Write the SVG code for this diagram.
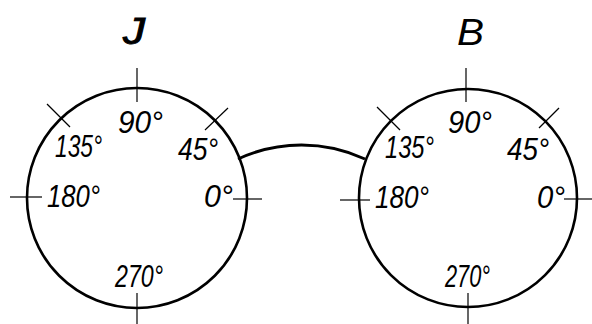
<svg xmlns="http://www.w3.org/2000/svg" width="592" height="324" viewBox="0 0 592 324">
<style>
.dial{fill:none;stroke:#000;stroke-width:2.6}
.tick{stroke:#000;stroke-width:1.2;fill:none}
.lbl{font-family:"Liberation Sans",Arial,sans-serif;font-style:italic;font-size:31px;fill:#000}
.ttl{font-family:"Liberation Sans",Arial,sans-serif;font-style:italic;font-size:37px;fill:#000}
.conn{fill:none;stroke:#000;stroke-width:3}
</style>
<rect width="592" height="324" fill="#fff"/>
<g id="dial-J">
<circle class="dial" cx="137" cy="198" r="110"/>
<line class="tick" x1="137" y1="68" x2="137" y2="102"/>
<line class="tick" x1="137" y1="293" x2="137" y2="324"/>
<line class="tick" x1="10" y1="197" x2="42" y2="197"/>
<line class="tick" x1="233" y1="199" x2="262" y2="199"/>
<line class="tick" x1="228" y1="108" x2="205" y2="130"/>
<line class="tick" x1="47" y1="104" x2="70" y2="127"/>
<text class="ttl" x="123" y="44" textLength="22" lengthAdjust="spacingAndGlyphs" stroke="#000" stroke-width="1">J</text>
<text class="lbl" x="118" y="133" textLength="45" lengthAdjust="spacingAndGlyphs">90°</text>
<text class="lbl" x="55" y="157" textLength="47" lengthAdjust="spacingAndGlyphs">135°</text>
<text class="lbl" x="178" y="160" textLength="40" lengthAdjust="spacingAndGlyphs">45°</text>
<text class="lbl" x="47" y="207" textLength="53" lengthAdjust="spacingAndGlyphs">180°</text>
<text class="lbl" x="204" y="207" textLength="29" lengthAdjust="spacingAndGlyphs">0°</text>
<text class="lbl" x="115" y="287" textLength="48" lengthAdjust="spacingAndGlyphs">270°</text>
</g>
<g id="dial-B">
<circle class="dial" cx="468" cy="198" r="109"/>
<line class="tick" x1="466" y1="68" x2="466" y2="102"/>
<line class="tick" x1="468" y1="293" x2="468" y2="324"/>
<line class="tick" x1="340" y1="200" x2="370" y2="200"/>
<line class="tick" x1="564" y1="199" x2="592" y2="199"/>
<line class="tick" x1="559" y1="108" x2="539" y2="128"/>
<line class="tick" x1="377" y1="107" x2="400" y2="130"/>
<text class="ttl" x="457" y="45" textLength="27" lengthAdjust="spacingAndGlyphs">B</text>
<text class="lbl" x="448" y="133" textLength="44" lengthAdjust="spacingAndGlyphs">90°</text>
<text class="lbl" x="385" y="158" textLength="49" lengthAdjust="spacingAndGlyphs">135°</text>
<text class="lbl" x="507" y="160" textLength="42" lengthAdjust="spacingAndGlyphs">45°</text>
<text class="lbl" x="375" y="208" textLength="54" lengthAdjust="spacingAndGlyphs">180°</text>
<text class="lbl" x="537" y="208" textLength="28" lengthAdjust="spacingAndGlyphs">0°</text>
<text class="lbl" x="445" y="287" textLength="45" lengthAdjust="spacingAndGlyphs">270°</text>
</g>
<g id="connectors">
<path class="conn" d="M238,159 A151,151 0 0 1 365,159"/>
</g>
</svg>
